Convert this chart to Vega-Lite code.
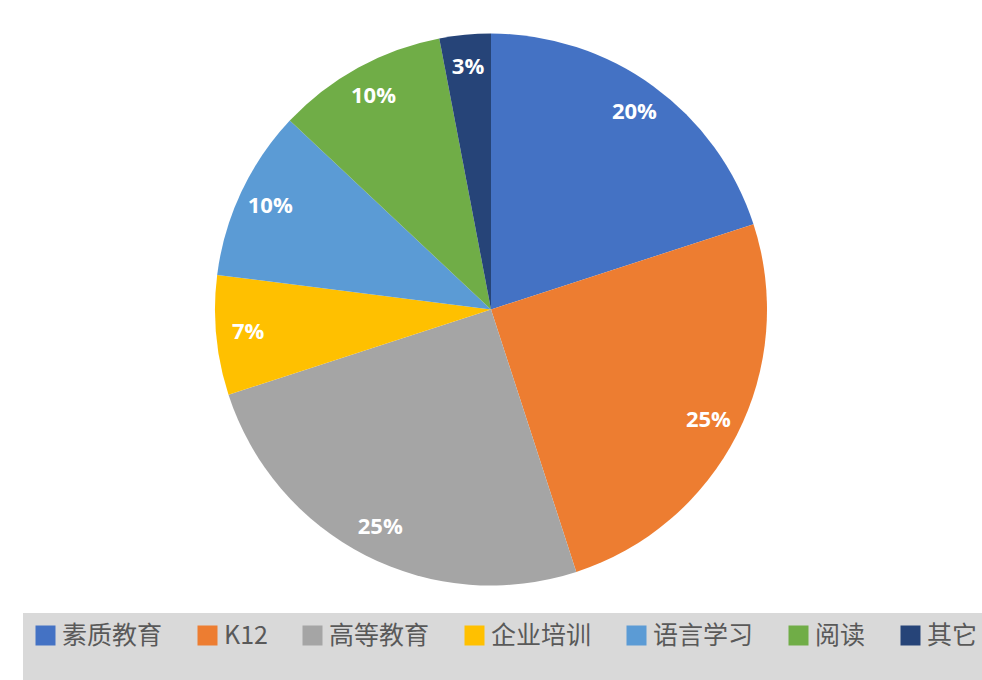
{
  "$schema": "https://vega.github.io/schema/vega-lite/v6.json",
  "width": 982,
  "height": 619,
  "padding": 0,
  "autosize": {"type": "pad"},
  "background": "white",
  "view": {"stroke": null},
  "data": {
    "values": [
      {"category": "素质教育", "value": 0.20, "order": 1},
      {"category": "K12", "value": 0.25, "order": 2},
      {"category": "高等教育", "value": 0.25, "order": 3},
      {"category": "企业培训", "value": 0.07, "order": 4},
      {"category": "语言学习", "value": 0.10, "order": 5},
      {"category": "阅读", "value": 0.10, "order": 6},
      {"category": "其它", "value": 0.03, "order": 7}
    ]
  },
  "encoding": {
    "theta": {"field": "value", "type": "quantitative", "stack": true},
    "order": {"field": "order", "type": "quantitative"}
  },
  "layer": [
    {
      "mark": {"type": "arc", "outerRadius": 276},
      "encoding": {
        "color": {
          "field": "category",
          "type": "nominal",
          "sort": ["素质教育", "K12", "高等教育", "企业培训", "语言学习", "阅读", "其它"],
          "scale": {
            "domain": ["素质教育", "K12", "高等教育", "企业培训", "语言学习", "阅读", "其它"],
            "range": ["#4472C4", "#ED7D31", "#A5A5A5", "#FFC000", "#5B9BD5", "#70AD47", "#264478"]
          },
          "legend": {
            "orient": "none",
            "legendX": 23,
            "legendY": 613,
            "direction": "horizontal",
            "columns": 7,
            "columnPadding": 32,
            "gridAlign": "none",
            "padding": 10,
            "fillColor": "#D9D9D9",
            "symbolType": "square",
            "symbolSize": 400,
            "symbolStrokeWidth": 0,
            "symbolOpacity": 1,
            "labelOffset": 4,
            "labelFont": "Noto Sans CJK SC",
            "labelFontSize": 25,
            "labelColor": "#595959",
            "title": " ",
            "titleOrient": "bottom",
            "titleFontSize": 24,
            "titlePadding": 10
          }
        }
      }
    },
    {
      "mark": {
        "type": "text",
        "radius": 244,
        "font": "Open Sans",
        "fontWeight": "bold",
        "fontSize": 22,
        "fill": "white",
        "align": "center",
        "baseline": "middle"
      },
      "encoding": {
        "text": {"field": "value", "type": "quantitative", "format": ".0%"}
      }
    }
  ]
}
